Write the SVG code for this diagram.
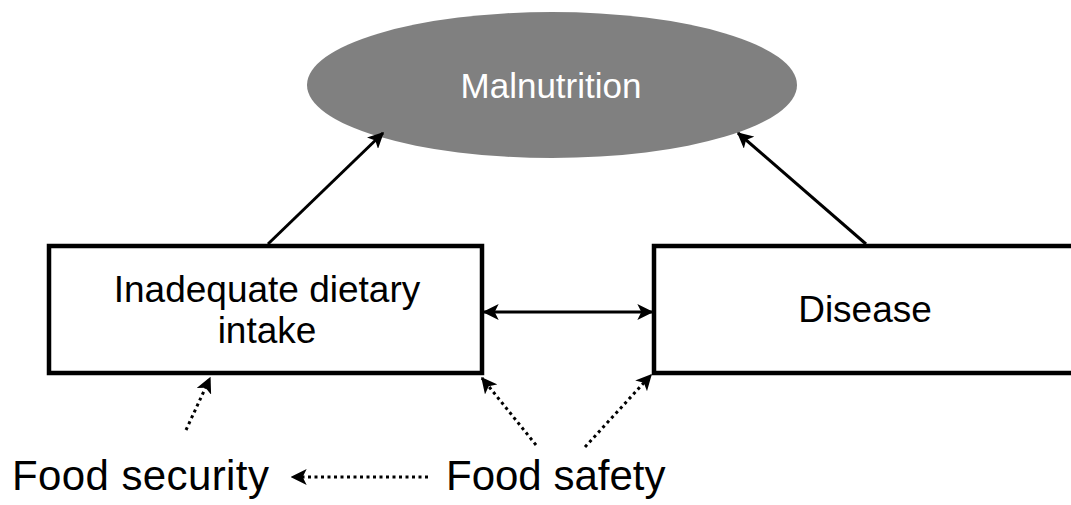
<svg xmlns="http://www.w3.org/2000/svg" width="1071" height="505" viewBox="0 0 1071 505">
<style>
text{font-family:"Liberation Sans",Arial,sans-serif;}
.lbl{font-size:37px;fill:#000;text-anchor:middle;}
.big{font-size:42px;fill:#000;}
.box{fill:#fff;stroke:#000;stroke-width:4.5;}
.solid{stroke:#000;stroke-width:3;fill:none;}
.dot{stroke:#000;stroke-width:3;fill:none;stroke-dasharray:3 3.5;}
</style>
<defs>
<marker id="a" viewBox="0 0 12 12" refX="11" refY="6" markerWidth="16" markerHeight="16" markerUnits="userSpaceOnUse" orient="auto-start-reverse">
<path d="M0,0 L12,6 L0,12 L3,6 Z" fill="#000"/>
</marker>
</defs>
<rect width="1071" height="505" fill="#fff"/>
<g id="malnutrition">
<ellipse cx="552" cy="85" rx="245" ry="73" fill="#808080"/>
<text class="lbl" x="551" y="98" style="fill:#fff;font-size:35px">Malnutrition</text>
</g>
<g id="intake">
<rect class="box" x="49" y="246" width="433" height="127"/>
<text class="lbl" x="267" y="302">Inadequate dietary</text>
<text class="lbl" x="267" y="343">intake</text>
</g>
<g id="disease">
<rect class="box" x="654" y="246" width="430" height="127"/>
<text class="lbl" x="865" y="322">Disease</text>
</g>
<g id="foodsecurity">
<text class="big" x="12" y="490" letter-spacing="0.4">Food security</text>
</g>
<g id="foodsafety">
<text class="big" x="446" y="490">Food safety</text>
</g>
<g id="connectors">
<line class="solid" x1="268" y1="244" x2="383" y2="133" marker-end="url(#a)"/>
<line class="solid" x1="866" y1="244" x2="738" y2="133" marker-end="url(#a)"/>
<line class="solid" x1="484" y1="312" x2="652" y2="312" marker-start="url(#a)" marker-end="url(#a)"/>
<line class="dot" x1="186" y1="430" x2="210" y2="378" marker-end="url(#a)"/>
<line class="dot" x1="536" y1="445" x2="482" y2="378" marker-end="url(#a)"/>
<line class="dot" x1="585" y1="447" x2="651" y2="375" marker-end="url(#a)"/>
<line class="dot" x1="428" y1="477" x2="292" y2="477" marker-end="url(#a)"/>
</g>
</svg>
